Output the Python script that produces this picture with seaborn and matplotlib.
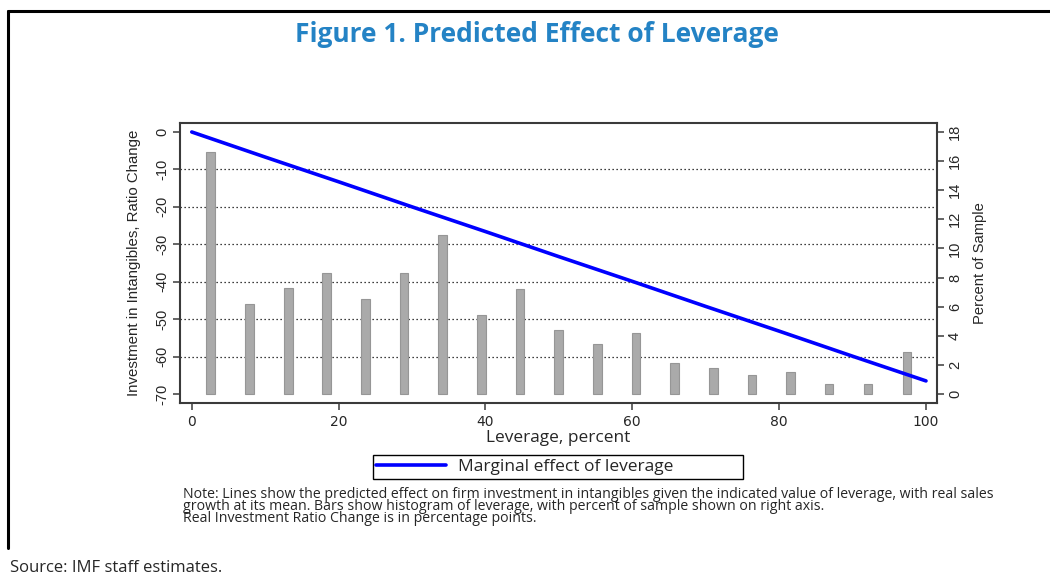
import matplotlib
matplotlib.use('Agg')
import matplotlib.pyplot as plt
from matplotlib.lines import Line2D
import seaborn as sns

# histogram of leverage: bin midpoints and percent of sample (right axis)
lev_mid = [2.6, 7.9, 13.2, 18.4, 23.7, 28.9, 34.2, 39.5, 44.7, 50.0,
           55.3, 60.5, 65.8, 71.1, 76.3, 81.6, 86.8, 92.1, 97.4]
pct_sample = [16.6, 6.2, 7.3, 8.3, 6.5, 8.3, 10.9, 5.4, 7.2, 4.4,
              3.4, 4.2, 2.1, 1.8, 1.3, 1.5, 0.7, 0.7, 2.9]

# predicted marginal effect of leverage (left axis)
lev_line = [0, 10, 20, 30, 40, 50, 60, 70, 80, 90, 100]
effect = [0, -6.7, -13.3, -20.0, -26.6, -33.3, -39.9, -46.6, -53.2, -59.9, -66.5]

left_ticks = [0, -10, -20, -30, -40, -50, -60, -70]
grid_vals = [-10, -20, -30, -40, -50, -60]
right_ticks = [0, 2, 4, 6, 8, 10, 12, 14, 16, 18]
x_ticks = [0, 20, 40, 60, 80, 100]

title = "Figure 1. Predicted Effect of Leverage"
legend_label = "Marginal effect of leverage"
note = ("Note: Lines show the predicted effect on firm investment in intangibles given the indicated value of leverage, with real sales\n"
        "growth at its mean. Bars show histogram of leverage, with percent of sample shown on right axis.\n"
        "Real Investment Ratio Change is in percentage points.")
source = "Source: IMF staff estimates."

sns.set_style('ticks')
plt.rcParams['font.family'] = ['Liberation Sans', 'DejaVu Sans']
plt.rcParams['axes.unicode_minus'] = False

W, H = 1050, 582
fig = plt.figure(figsize=(10.5, 5.82), dpi=100)
ax = fig.add_axes([180 / W, 1 - 403 / H, (937 - 180) / W, (403 - 123) / H])
ax2 = ax.twinx()

# dotted grid on the left axis, under the bars
for v in grid_vals:
    ax.axhline(v, color='black', lw=0.9, ls=(0, (1, 2.2)), zorder=0)

sns.barplot(x=lev_mid, y=pct_sample, native_scale=True, width=0.23,
            color='#aaaaaa', saturation=1, edgecolor='#969696', linewidth=0.8, ax=ax2)
sns.lineplot(x=lev_line, y=effect, ax=ax2, color='#0000ff', lw=2.6,
             transform=ax.transData, legend=False, zorder=5)
effect_line = ax2.lines[-1]

ax.set_xlim(-1.6, 101.5)
ax.set_ylim(-72.4, 2.4)
ax2.set_ylim(-0.62, 18.62)
ax.set_xticks(x_ticks)
ax.set_yticks(left_ticks)
ax2.set_yticks(right_ticks)
ax2.set_xlabel('')

spine_c = '#3a3a3a'
for s in ax.spines.values():
    s.set_visible(True)
    s.set_color(spine_c)
    s.set_linewidth(1.5)
for s in ax2.spines.values():
    s.set_visible(False)

ax.tick_params(axis='both', direction='out', length=5, width=1.1, color=spine_c)
ax2.tick_params(axis='y', direction='out', length=5, width=1.1, color=spine_c)
ax.tick_params(axis='x', labelsize=10, pad=4)
for lab in ax.get_xticklabels():
    lab.set_family('DejaVu Sans')
ax.tick_params(axis='y', labelsize=10.5, labelrotation=90, pad=3)
ax2.tick_params(axis='y', labelsize=10.5, labelrotation=90, pad=3)
for lab in ax.get_yticklabels() + ax2.get_yticklabels():
    lab.set_va('center')

ax.set_ylabel("Investment in Intangibles, Ratio Change", fontsize=10.8, labelpad=10)
ax2.set_ylabel("Percent of Sample", fontsize=10.6, labelpad=8)
ax.set_xlabel("Leverage, percent", fontsize=12.4, family='Open Sans', labelpad=0)

fig.legend([effect_line], [legend_label], loc='center',
           bbox_to_anchor=(373 / W, 1 - 481 / H, 370 / W, 28 / H), mode='expand',
           frameon=True, fancybox=False, edgecolor='black', framealpha=1,
           prop={'family': 'Open Sans', 'size': 12.5}, handlelength=4.0,
           handletextpad=0.7, borderpad=0.2, borderaxespad=0)
fig.legends[0].get_frame().set_linewidth(1.0)

fig.text(537 / W, 1 - 35 / H, title, ha='center', va='center', fontsize=19,
         fontweight='bold', family='Open Sans', color='#2483c5')
fig.text(183 / W, 1 - 487 / H, note, ha='left', va='top', fontsize=10.2,
         family='Open Sans', linespacing=0.75)
fig.text(10 / W, 1 - 568 / H, source, ha='left', va='center', fontsize=12,
         family='Open Sans')

# outer frame: top and left rules
fig.add_artist(Line2D([8 / W, 1], [1 - 11 / H, 1 - 11 / H], color='black', lw=2.2,
                      transform=fig.transFigure))
fig.add_artist(Line2D([8 / W, 8 / W], [1 - 11 / H, 1 - 548 / H], color='black', lw=2.2,
                      transform=fig.transFigure))

fig.savefig('out.png', dpi=100)
